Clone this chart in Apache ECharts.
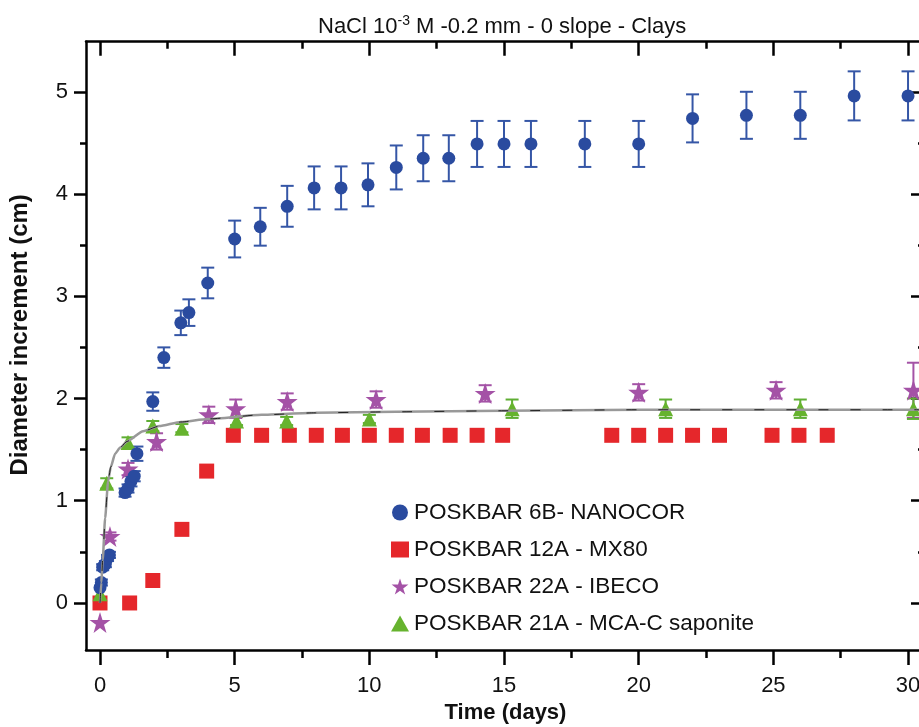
<!DOCTYPE html>
<html lang="en">
<head>
    <meta charset="UTF-8">
    <title>NaCl 10-3 M - Clays</title>
    <script src="https://cdn.jsdelivr.net/npm/echarts@6/dist/echarts.min.js"></script>
    <style>
        html, body { margin: 0; padding: 0; background: #fff; }
    </style>
</head>
<body>

<div id="eCharts" style="width: 919px;height: 727px"></div>

<script>
    // data (days, cm, error)
    var nanocorDays = [0, 0.05, 0.1, 0.2, 0.28, 0.35, 0.93, 1.04, 1.15, 1.27, 1.37, 1.96, 2.37, 3.0, 3.3, 4.0,
        5.0, 5.95, 6.95, 7.95, 8.95, 9.95, 11, 12, 12.95, 14, 15, 16, 18, 20, 22, 24, 26, 28, 30];
    var nanocorValues = [0.15, 0.2, 0.35, 0.38, 0.44, 0.47, 1.08, 1.12, 1.19, 1.24, 1.46, 1.97, 2.40, 2.74, 2.84, 3.13,
        3.56, 3.68, 3.88, 4.06, 4.06, 4.09, 4.26, 4.35, 4.35, 4.49, 4.49, 4.49, 4.49, 4.49, 4.74, 4.77, 4.77, 4.96, 4.96];
    var nanocorErr = [0, 0.03, 0.03, 0.03, 0.03, 0.03, 0.04, 0.04, 0.05, 0.05, 0.07, 0.09, 0.1, 0.12, 0.13, 0.15,
        0.18, 0.185, 0.2, 0.21, 0.21, 0.21, 0.215, 0.225, 0.225, 0.225, 0.225, 0.225, 0.225, 0.225, 0.235, 0.23, 0.23, 0.24, 0.24];

    var mx80Days = [0, 1.1, 1.96, 3.04, 3.96, 4.95, 6, 7.03, 8.03, 9, 10, 11, 11.97, 13, 14, 14.95,
        19, 20, 21, 22, 23, 24.95, 25.95, 27];
    var mx80Values = [0, 0, 0.22, 0.72, 1.29, 1.64, 1.64, 1.64, 1.64, 1.64, 1.64, 1.64, 1.64, 1.64, 1.64, 1.64,
        1.64, 1.64, 1.64, 1.64, 1.64, 1.64, 1.64, 1.64];

    var ibecoDays = [0, 0.37, 1.04, 2.1, 4.04, 5.04, 6.95, 10.25, 14.3, 20, 25.1, 30.2];
    var ibecoValues = [-0.19, 0.65, 1.31, 1.58, 1.84, 1.9, 1.97, 1.99, 2.05, 2.06, 2.08, 2.08];
    var ibecoErr = [0, 0.04, 0.06, 0.08, 0.08, 0.09, 0.08, 0.08, 0.08, 0.08, 0.08, 0.27];

    var saponiteDays = [0, 0.25, 1.04, 1.96, 3.04, 5.07, 6.93, 10, 15.3, 21, 26, 30.2];
    var saponiteValues = [0.09, 1.17, 1.57, 1.73, 1.71, 1.78, 1.78, 1.8, 1.9, 1.9, 1.9, 1.9];
    var saponiteErr = [0, 0.05, 0.05, 0.05, 0.04, 0.04, 0.04, 0.04, 0.09, 0.09, 0.09, 0.1];

    // fitted curve
    var fitDays = [0, 0.05, 0.1, 0.19, 0.3, 0.4, 0.56, 0.75, 1, 1.6, 2.2, 3, 4, 6, 8, 11, 15, 20, 30.6];
    var fitValues = [0, 0.2, 0.42, 0.83, 1.19, 1.33, 1.46, 1.52, 1.58, 1.68, 1.73, 1.77, 1.8, 1.84, 1.86, 1.87, 1.88, 1.89, 1.89];

    var seriesNames = ['POSKBAR 6B- NANOCOR', 'POSKBAR 12A - MX80', 'POSKBAR 22A - IBECO', 'POSKBAR 21A - MCA-C saponite'];

    var xMajorTicks = [0, 5, 10, 15, 20, 25, 30];
    var xMinorTicks = [2.5, 7.5, 12.5, 17.5, 22.5, 27.5];
    var yMajorTicks = [0, 1, 2, 3, 4, 5];
    var yMinorTicks = [0.5, 1.5, 2.5, 3.5, 4.5];

    var FONT = 'Liberation Sans, Arial, sans-serif';
    var X_MIN = -0.52, X_MAX = 30.63;
    var Y_MIN = -0.46, Y_MAX = 5.49;
    var STAR = 'path://M50,0 L61.2,34.5 L97.6,34.5 L68.2,55.9 L79.4,90.5 L50,69.1 L20.6,90.5 L31.8,55.9 L2.4,34.5 L38.8,34.5 Z';

    function pairs(xs, ys) {
        return xs.map(function (x, i) { return [x, ys[i]]; });
    }

    // error bars drawn with a custom series
    function errorBars(xs, ys, errs, color) {
        var data = [];
        xs.forEach(function (x, i) {
            if (errs[i] > 0) data.push([x, ys[i] - errs[i], ys[i] + errs[i]]);
        });
        return {
            type: 'custom',
            z: 2,
            silent: true,
            data: data,
            encode: {x: 0, y: [1, 2]},
            renderItem: function (params, api) {
                var lo = api.coord([api.value(0), api.value(1)]);
                var hi = api.coord([api.value(0), api.value(2)]);
                var w = 6.5;
                var st = {stroke: color, lineWidth: 2, fill: null};
                return {
                    type: 'group',
                    children: [
                        {type: 'line', shape: {x1: hi[0], y1: hi[1], x2: lo[0], y2: lo[1]}, style: st},
                        {type: 'line', shape: {x1: hi[0] - w, y1: hi[1], x2: hi[0] + w, y2: hi[1]}, style: st},
                        {type: 'line', shape: {x1: lo[0] - w, y1: lo[1], x2: lo[0] + w, y2: lo[1]}, style: st}
                    ]
                };
            }
        };
    }

    function axisCommon(extra) {
        var base = {
            type: 'value',
            splitLine: {show: false},
            axisLine: {show: true, onZero: false, lineStyle: {color: '#000', width: 2.5}},
            axisLabel: {show: false},
            axisTick: {show: true, lineStyle: {color: '#000', width: 2.5}}
        };
        for (var k in extra) base[k] = extra[k];
        return base;
    }

    var hiddenLine = {show: false, onZero: false};

    var myChart = echarts.init(document.getElementById('eCharts'));

    var option = {
        backgroundColor: '#fff',
        animation: false,
        title: {
            text: '{a|NaCl 10}{b|-3}{a| M -0.2 mm - 0 slope - Clays}',
            left: 313,
            top: 9,
            textStyle: {
                fontWeight: 'normal',
                rich: {
                    a: {fontSize: 22, fontFamily: FONT, fontWeight: 'normal', color: '#111', lineHeight: 25},
                    b: {fontSize: 14, fontFamily: FONT, fontWeight: 'normal', color: '#111', verticalAlign: 'top', lineHeight: 15}
                }
            }
        },
        legend: {
            data: seriesNames,
            orient: 'vertical',
            left: 386,
            top: 496,
            itemWidth: 18,
            itemHeight: 16,
            itemGap: 14,
            textStyle: {fontSize: 22.5, fontFamily: FONT, color: '#111'}
        },
        grid: {
            left: 86,
            right: -6,
            top: 41.7,
            bottom: 77,
            containLabel: false,
            outerBoundsMode: 'none'
        },
        xAxis: [
            axisCommon({
                position: 'bottom', min: X_MIN, max: X_MAX,
                axisTick: {customValues: xMajorTicks, length: 15, lineStyle: {color: '#000', width: 2.5}},
                axisLabel: {show: true, customValues: xMajorTicks, fontSize: 22, fontFamily: FONT, color: '#111', margin: 25},
                name: 'Time (days)',
                nameLocation: 'middle',
                nameGap: 51,
                nameTextStyle: {fontSize: 22, fontWeight: 'bold', fontFamily: FONT, color: '#111'}
            }),
            axisCommon({
                position: 'bottom', min: X_MIN, max: X_MAX,
                axisLine: hiddenLine,
                axisTick: {customValues: xMinorTicks, length: 8, lineStyle: {color: '#000', width: 2.5}}
            }),
            axisCommon({
                position: 'top', min: X_MIN, max: X_MAX,
                axisTick: {inside: true, customValues: xMajorTicks, length: 14, lineStyle: {color: '#000', width: 2.5}}
            }),
            axisCommon({
                position: 'top', min: X_MIN, max: X_MAX,
                axisLine: hiddenLine,
                axisTick: {inside: true, customValues: xMinorTicks, length: 7, lineStyle: {color: '#000', width: 2.5}}
            })
        ],
        yAxis: [
            axisCommon({
                position: 'left', min: Y_MIN, max: Y_MAX,
                axisTick: {customValues: yMajorTicks, length: 12, lineStyle: {color: '#000', width: 2.5}},
                axisLabel: {show: true, customValues: yMajorTicks, fontSize: 22, fontFamily: FONT, color: '#111', margin: 18},
                name: 'Diameter increment (cm)',
                nameLocation: 'middle',
                nameGap: 54,
                nameTextStyle: {fontSize: 24, fontWeight: 'bold', fontFamily: FONT, color: '#111', padding: [0, 0, 0, 22]}
            }),
            axisCommon({
                position: 'left', min: Y_MIN, max: Y_MAX,
                axisLine: hiddenLine,
                axisTick: {customValues: yMinorTicks, length: 6, lineStyle: {color: '#000', width: 2.5}}
            }),
            axisCommon({
                position: 'right', min: Y_MIN, max: Y_MAX,
                axisTick: {inside: true, customValues: yMajorTicks, length: 14, lineStyle: {color: '#000', width: 2.5}}
            }),
            axisCommon({
                position: 'right', min: Y_MIN, max: Y_MAX,
                axisLine: hiddenLine,
                axisTick: {inside: true, customValues: yMinorTicks, length: 7, lineStyle: {color: '#000', width: 2.5}}
            })
        ],
        series: [
            errorBars(nanocorDays, nanocorValues, nanocorErr, '#3556a6'),
            errorBars(ibecoDays, ibecoValues, ibecoErr, '#a453a6'),
            errorBars(saponiteDays, saponiteValues, saponiteErr, '#5fae34'),
            {
                name: seriesNames[1],
                type: 'scatter',
                symbol: 'rect',
                symbolSize: 15,
                z: 3,
                itemStyle: {color: '#e5272b', opacity: 1},
                data: pairs(mx80Days, mx80Values)
            },
            {
                name: seriesNames[3],
                type: 'scatter',
                symbol: 'triangle',
                symbolSize: 15,
                z: 3,
                itemStyle: {color: '#66b32e', opacity: 1},
                data: pairs(saponiteDays, saponiteValues)
            },
            {
                name: seriesNames[2],
                type: 'scatter',
                symbol: STAR,
                symbolSize: 21,
                z: 4,
                itemStyle: {color: '#a452a6', opacity: 1},
                data: pairs(ibecoDays, ibecoValues)
            },
            {
                name: seriesNames[0],
                type: 'scatter',
                symbol: 'circle',
                symbolSize: 13,
                z: 4,
                itemStyle: {color: '#2a4b9f', opacity: 1},
                data: pairs(nanocorDays, nanocorValues)
            },
            {
                type: 'line',
                z: 5,
                symbol: 'none',
                smooth: 0.2,
                smoothMonotone: 'x',
                silent: true,
                lineStyle: {color: '#999', width: 2.5},
                data: pairs(fitDays, fitValues)
            },
            {
                type: 'line',
                z: 6,
                symbol: 'none',
                smooth: 0.2,
                smoothMonotone: 'x',
                silent: true,
                lineStyle: {color: '#222', width: 1, type: [10, 22]},
                data: pairs(fitDays, fitValues)
            }
        ]
    };

    myChart.setOption(option);
</script>

</body>
</html>
